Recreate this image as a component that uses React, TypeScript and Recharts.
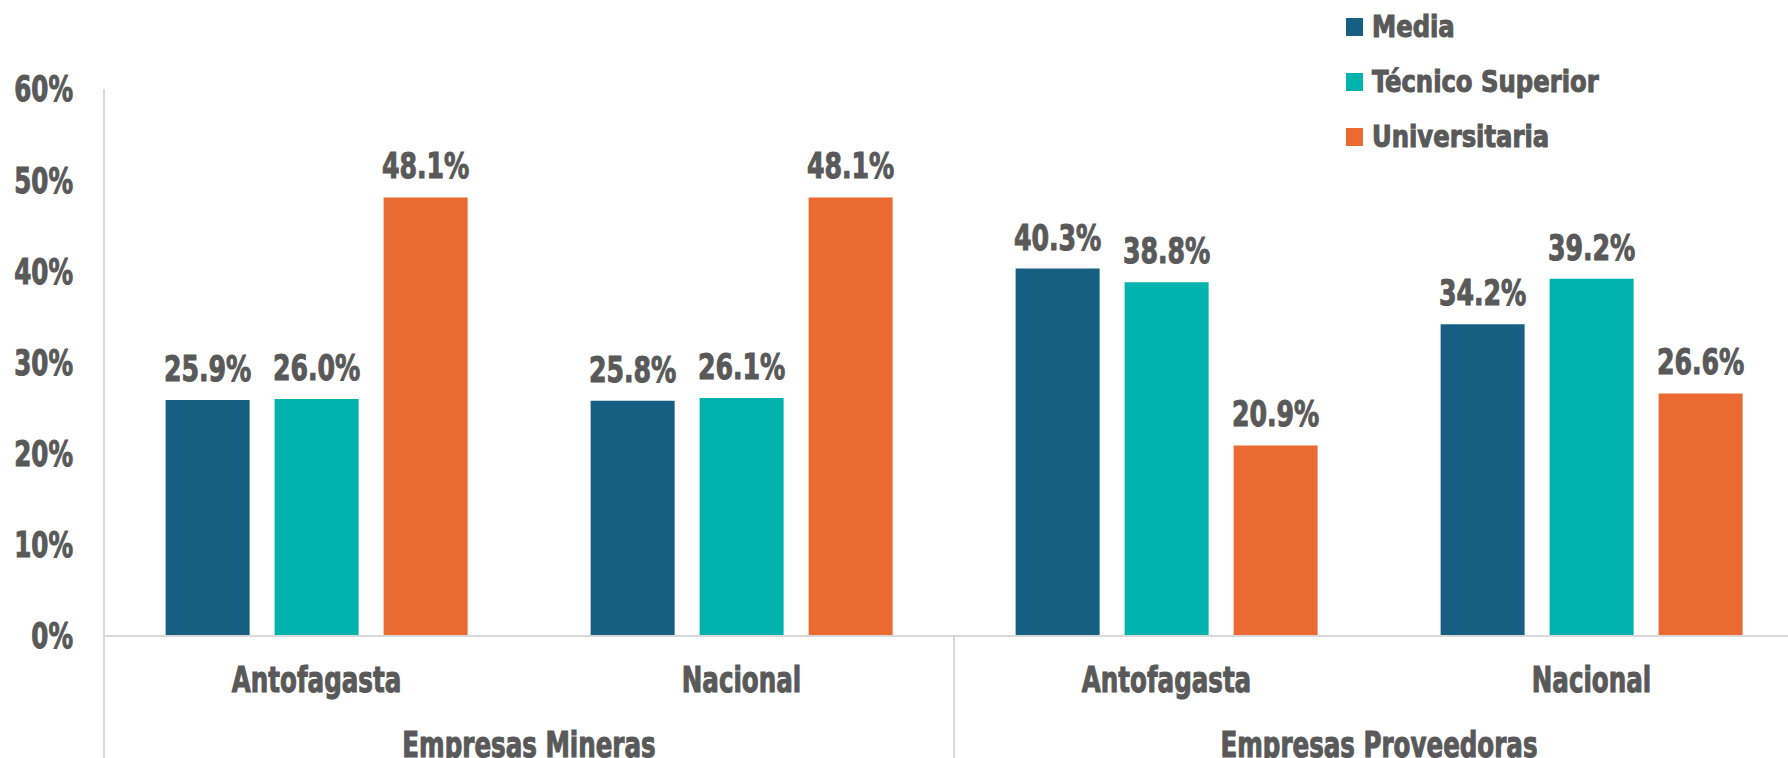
import React from "react";
import { BarChart, Bar, XAxis, YAxis, LabelList } from "recharts";

const subCategories = ["Antofagasta", "Nacional", "Antofagasta", "Nacional"];
const groupCategories = ["Empresas Mineras", "Empresas Mineras", "Empresas Proveedoras", "Empresas Proveedoras"];
const mediaValues = [25.9, 25.8, 40.3, 34.2];
const tecnicoValues = [26.0, 26.1, 38.8, 39.2];
const universitariaValues = [48.1, 48.1, 20.9, 26.6];
const yTicks = [0, 10, 20, 30, 40, 50, 60];

const seriesNames = ["Media", "Técnico Superior", "Universitaria"];
const seriesKeys = ["media", "tecnico", "univ"];
const seriesColors = ["#165f82", "#00b3ad", "#eb6a31"];

const data = subCategories.map((sub, i) => ({
  sub,
  group: groupCategories[i],
  media: mediaValues[i],
  tecnico: tecnicoValues[i],
  univ: universitariaValues[i],
}));

const FONT = "'DejaVu Sans Condensed', 'DejaVu Sans', sans-serif";
const TEXT_COLOR = "#595959";
const LINE_COLOR = "#d9d9d9";
const FS = 35;
const AXIS_SX = 0.78;
const LABEL_SX = 0.8;
const MAIN_AXIS_H = 80;
const GROUP_MARGIN = 16;

const SText = ({ x, y, anchor, sx, dy, size, children }: any) => (
  <text
    x={x}
    y={y}
    dy={dy}
    textAnchor={anchor}
    fill={TEXT_COLOR}
    stroke={TEXT_COLOR}
    strokeWidth={1}
    transform={`matrix(${sx},0,0,1,${x * (1 - sx)},0)`}
    style={{ fontFamily: FONT, fontSize: size, fontWeight: 700 }}
  >
    {children}
  </text>
);

const YTick = (props: any) => {
  const { x, y, payload } = props;
  return (
    <SText x={x} y={y} anchor="end" sx={AXIS_SX} dy="0.355em" size={FS}>
      {`${payload.value}%`}
    </SText>
  );
};

const MainTick = (props: any) => {
  const { x, y, payload } = props;
  return (
    <SText x={x} y={y} anchor="middle" sx={AXIS_SX} dy="0.71em" size={FS}>
      {payload.value}
    </SText>
  );
};

const GroupTick = (props: any) => {
  const { x, y, payload, width, visibleTicksCount, index } = props;
  const band = payload && payload.offset ? payload.offset * 2 : width / visibleTicksCount;
  const top = y - GROUP_MARGIN - MAIN_AXIS_H;
  const left = x - band / 2;
  const right = x + band / 2;
  return (
    <g>
      <line x1={left} x2={left} y1={top} y2={top + 200} stroke={LINE_COLOR} strokeWidth={2} />
      {index === visibleTicksCount - 1 && (
        <line x1={right} x2={right} y1={top} y2={top + 200} stroke={LINE_COLOR} strokeWidth={2} />
      )}
      <SText x={x} y={y} anchor="middle" sx={AXIS_SX} dy="0.71em" size={FS}>
        {payload.value}
      </SText>
    </g>
  );
};

const ValueLabel = (props: any) => {
  const { x, y, width, value } = props;
  const cx = Number(x) + Number(width) / 2;
  return (
    <SText x={cx} y={Number(y) - 19} anchor="middle" sx={LABEL_SX} size={FS}>
      {`${Number(value).toFixed(1)}%`}
    </SText>
  );
};

export default function App() {
  return (
    <div
      style={{
        position: "absolute",
        left: 0,
        top: 0,
        width: 1788,
        height: 758,
        overflow: "hidden",
        background: "#ffffff",
        fontFamily: FONT,
      }}
    >
      <BarChart
        width={1804}
        height={758}
        data={data}
        margin={{ top: 89, right: 0, left: 0, bottom: 0 }}
        barGap={25}
        barCategoryGap="14.5%"
      >
        <XAxis
          xAxisId="a"
          dataKey="sub"
          height={MAIN_AXIS_H}
          axisLine={{ stroke: LINE_COLOR, strokeWidth: 2 }}
          tickLine={false}
          tickSize={0}
          tickMargin={31}
          tick={<MainTick />}
          interval={0}
        />
        <XAxis
          xAxisId="b"
          dataKey="group"
          allowDuplicatedCategory={false}
          height={758 - 89 - 547 - MAIN_AXIS_H}
          axisLine={false}
          tickLine={false}
          tickSize={0}
          tickMargin={GROUP_MARGIN}
          tick={<GroupTick />}
          interval={0}
        />
        <YAxis
          width={104}
          domain={[0, 60]}
          ticks={yTicks}
          interval={0}
          axisLine={{ stroke: LINE_COLOR, strokeWidth: 2 }}
          tickLine={false}
          tickSize={0}
          tickMargin={31}
          tick={<YTick />}
        />
        {seriesKeys.map((k, i) => (
          <Bar key={k} xAxisId="a" dataKey={k} name={seriesNames[i]} fill={seriesColors[i]} isAnimationActive={false}>
            <LabelList dataKey={k} content={<ValueLabel />} />
          </Bar>
        ))}
      </BarChart>
      <div style={{ position: "absolute", left: 1346, top: 0 }}>
        {seriesNames.map((n, i) => (
          <div
            key={n}
            style={{
              position: "absolute",
              left: 0,
              top: 27 + i * 55 - 20,
              height: 40,
              display: "flex",
              alignItems: "center",
              whiteSpace: "nowrap",
            }}
          >
            <div style={{ width: 17, height: 18, background: seriesColors[i], marginRight: 9, flex: "none" }} />
            <span
              style={{
                color: TEXT_COLOR,
                fontSize: 30,
                fontWeight: 700,
                fontFamily: FONT,
                lineHeight: "40px",
                display: "inline-block",
                transform: "scaleX(0.9)",
                transformOrigin: "left center",
                WebkitTextStroke: "1px #595959",
              }}
            >
              {n}
            </span>
          </div>
        ))}
      </div>
    </div>
  );
}
